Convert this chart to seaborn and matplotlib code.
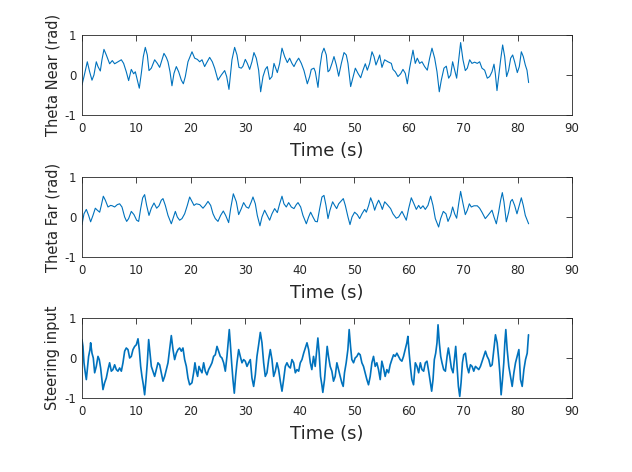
import matplotlib
matplotlib.use('Agg')
import matplotlib.pyplot as plt
import seaborn as sns
import pandas as pd

# values (time in s, angle in rad / steering)
near_t = [0.0, 0.37, 0.98, 1.41, 1.84, 2.20, 2.63, 2.94, 3.37, 3.67, 4.04, 4.47, 5.08, 5.57, 6.00,
          6.61, 7.23, 7.65, 8.14, 8.57, 9.06, 9.49, 9.80, 10.17, 10.53, 10.90, 11.27, 11.63, 12.00,
          12.31, 12.74, 13.35, 13.84, 14.27, 14.70, 15.06, 15.49, 15.80, 16.17, 16.53, 16.90, 17.33,
          17.76, 18.25, 18.62, 18.98, 19.47, 20.21, 20.70, 21.19, 21.62, 22.05, 22.53, 22.84, 23.45,
          23.94, 24.37, 24.98, 25.60, 26.21, 26.58, 27.0, 27.55, 28.04, 28.47, 28.84, 29.27, 29.57,
          30.0, 30.37, 30.80, 31.22, 31.59, 32.02, 32.45, 32.82, 33.25, 33.67, 34.04, 34.47, 34.90,
          35.27, 35.88, 36.31, 36.74, 37.23, 37.72, 38.14, 38.57, 38.94, 39.37, 39.80, 40.29, 40.78,
          41.39, 41.82, 42.12, 42.61, 42.86, 43.35, 43.72, 44.08, 44.45, 44.88, 45.19, 45.49, 45.92,
          46.29, 46.72, 47.15, 47.64, 48.13, 48.55, 48.86, 49.35, 49.78, 50.21, 50.70, 51.19, 51.62,
          52.04, 52.41, 52.84, 53.27, 53.64, 54.00, 54.37, 54.68, 55.10, 55.59, 56.20, 56.82, 57.12,
          57.55, 58.04, 58.53, 58.96, 59.39, 59.76, 60.18, 60.80, 61.22, 61.59, 62.02, 62.45, 62.94,
          63.43, 63.86, 64.29, 64.78, 65.21, 65.63, 66.0, 66.49, 66.92, 67.35, 67.72, 68.08, 68.45,
          68.82, 69.19, 69.55, 69.98, 70.41, 70.78, 71.21, 71.63, 72.12, 72.61, 73.04, 73.47, 73.96,
          74.45, 74.88, 75.31, 75.68, 75.92, 76.23, 76.53, 76.90, 77.27, 77.64, 78.00, 78.37, 78.74,
          79.11, 79.47, 79.96, 80.33, 80.70, 81.06, 81.43, 81.74, 82.04]
near_val = [-0.25, -0.04, 0.33, 0.08, -0.13, 0.0, 0.33, 0.21, 0.10, 0.38, 0.64, 0.50, 0.28, 0.36, 0.28,
            0.33, 0.38, 0.29, 0.08, -0.14, 0.14, 0.03, 0.08, -0.13, -0.33, 0.04, 0.46, 0.69, 0.50,
            0.11, 0.17, 0.38, 0.29, 0.19, 0.38, 0.54, 0.44, 0.33, 0.08, -0.27, 0.04, 0.21,
            0.08, -0.13, -0.22, -0.04, 0.33, 0.58, 0.42, 0.39, 0.33, 0.38, 0.21, 0.29, 0.44,
            0.33, 0.17, -0.13, 0.0, 0.11, -0.04, -0.36, 0.38, 0.69, 0.50, 0.19, 0.17, 0.22,
            0.39, 0.29, 0.14, 0.33, 0.56, 0.42, 0.12, -0.42, -0.04, 0.14, 0.21, -0.11, -0.04,
            0.29, 0.06, 0.29, 0.67, 0.46, 0.31, 0.42, 0.29, 0.21, 0.33, 0.42, 0.29, 0.11,
            -0.22, -0.04, 0.14, 0.17, 0.08, -0.31, 0.21, 0.54, 0.67, 0.50, 0.08, 0.12, 0.29,
            0.46, 0.25, -0.03, 0.29, 0.56, 0.50, 0.29, -0.29, -0.06, 0.17, 0.04, -0.07, 0.12,
            0.28, 0.12, 0.29, 0.58, 0.46, 0.25, 0.38, 0.50, 0.19, 0.38, 0.33, 0.29, 0.14,
            0.08, -0.04, 0.03, 0.14, 0.04, -0.22, 0.17, 0.62, 0.29, 0.42, 0.29, 0.33, 0.21,
            0.12, 0.42, 0.67, 0.42, 0.08, -0.42, -0.13, 0.17, 0.22, -0.08, 0.0, 0.33, 0.12,
            -0.08, 0.38, 0.81, 0.38, 0.11, 0.17, 0.38, 0.29, 0.32, 0.29, 0.33, 0.17, 0.12,
            -0.08, -0.04, 0.08, 0.27, 0.04, -0.39, -0.04, 0.38, 0.75, 0.46, -0.04, 0.12, 0.42,
            0.50, 0.33, 0.06, 0.21, 0.58, 0.46, 0.25, 0.12, -0.19]

far_t = [0.0, 0.37, 0.80, 1.22, 1.59, 2.02, 2.45, 2.82, 3.25, 3.55, 3.92, 4.29, 4.78, 5.27, 5.57,
         6.00, 6.49, 6.92, 7.35, 7.84, 8.21, 8.57, 9.06, 9.55, 10.04, 10.41, 10.78, 11.15, 11.51,
         11.88, 12.31, 12.74, 13.23, 13.72, 14.15, 14.57, 14.88, 15.31, 15.80, 16.41, 16.72, 17.15,
         17.51, 17.94, 18.37, 18.86, 19.35, 19.78, 20.21, 20.58, 21.00, 21.62, 22.23, 22.66, 23.15,
         23.64, 24.07, 24.49, 24.98, 25.47, 25.96, 26.39, 26.94, 27.31, 27.80, 28.35, 28.78, 29.27,
         29.69, 30.18, 30.61, 31.10, 31.41, 31.84, 32.20, 32.69, 33.06, 33.55, 34.04, 34.47, 34.90,
         35.39, 35.88, 36.31, 36.74, 37.10, 37.53, 37.96, 38.45, 38.94, 39.37, 39.68, 40.17, 40.59,
         41.21, 41.63, 42.00, 42.43, 42.86, 43.23, 43.66, 44.08, 44.45, 44.82, 45.19, 45.55, 46.04,
         46.41, 46.78, 47.15, 48.00, 48.37, 48.86, 49.23, 49.60, 50.08, 50.57, 51.00, 51.43, 51.92,
         52.23, 52.66, 53.02, 53.45, 53.76, 54.06, 54.49, 54.86, 55.17, 55.60, 56.08, 56.69, 57.12,
         57.73, 58.16, 58.78, 59.14, 59.57, 60.0, 60.49, 60.98, 61.41, 61.84, 62.20, 62.63, 63.06,
         63.55, 64.04, 64.47, 64.90, 65.51, 65.88, 66.37, 66.86, 67.23, 67.72, 68.08, 68.45, 68.82,
         69.19, 69.55, 69.92, 70.41, 70.78, 71.15, 71.51, 72.0, 72.61, 73.04, 73.47, 74.08, 74.57,
         75.31, 75.68, 76.11, 76.53, 76.90, 77.21, 77.51, 77.94, 78.37, 78.74, 79.04, 79.47, 79.90,
         80.33, 80.70, 81.06, 81.43, 82.04]
far_val = [-0.19, 0.08, 0.19, 0.04, -0.12, 0.04, 0.22, 0.17, 0.12, 0.29, 0.52, 0.42, 0.25, 0.29, 0.28,
           0.25, 0.31, 0.33, 0.25, 0.0, -0.11, -0.04, 0.14, 0.06, -0.08, -0.11, 0.21, 0.48, 0.56,
           0.29, 0.04, 0.22, 0.35, 0.22, 0.28, 0.42, 0.46, 0.29, 0.04, -0.17, -0.04, 0.14,
           0.0, -0.08, -0.04, 0.08, 0.29, 0.50, 0.39, 0.29, 0.33, 0.31, 0.22, 0.29, 0.39,
           0.29, 0.08, -0.04, -0.11, 0.04, 0.15, 0.04, -0.14, 0.21, 0.58, 0.38, 0.06, 0.21,
           0.36, 0.25, 0.22, 0.38, 0.50, 0.33, 0.04, -0.22, 0.0, 0.17, 0.04, -0.08, 0.08,
           0.21, 0.11, 0.33, 0.52, 0.33, 0.25, 0.36, 0.25, 0.21, 0.31, 0.36, 0.25, 0.04,
           -0.17, 0.0, 0.12, 0.0, -0.11, -0.12, 0.21, 0.50, 0.54, 0.29, -0.04, 0.17, 0.38,
           0.29, 0.21, 0.33, 0.46, 0.29, 0.0, -0.19, 0.0, 0.12, 0.06, -0.04, 0.08, 0.19,
           0.12, 0.29, 0.48, 0.33, 0.17, 0.29, 0.42, 0.31, 0.19, 0.38, 0.31, 0.21, 0.08,
           -0.03, 0.0, 0.14, 0.04, -0.08, 0.21, 0.48, 0.33, 0.19, 0.29, 0.21, 0.28, 0.19,
           0.29, 0.52, 0.29, -0.04, -0.25, -0.04, 0.14, 0.08, -0.11, 0.04, 0.25, 0.08, -0.03,
           0.33, 0.64, 0.38, 0.06, 0.17, 0.33, 0.25, 0.28, 0.28, 0.22, 0.12, -0.04, 0.04,
           0.17, 0.0, -0.17, 0.12, 0.42, 0.61, 0.38, -0.12, 0.12, 0.39, 0.44, 0.29, 0.08,
           0.29, 0.48, 0.29, 0.04, -0.17]

steer_t = [0.0, 0.18, 0.37, 0.61, 0.80, 0.98, 1.22, 1.47, 1.59, 1.84, 2.08, 2.33, 2.63, 2.94, 3.18,
           3.43, 3.67, 3.86, 4.16, 4.47, 4.78, 5.08, 5.39, 5.69, 6.00, 6.31, 6.61, 6.92, 7.23, 7.53,
           7.84, 8.14, 8.45, 8.76, 9.06, 9.37, 9.68, 9.98, 10.29, 10.53, 10.78, 11.02, 11.27, 11.51,
           11.76, 12.00, 12.25, 12.49, 12.74, 13.04, 13.35, 13.66, 13.96, 14.27, 14.57, 14.88, 15.19,
           15.49, 15.80, 16.10, 16.41, 16.72, 17.02, 17.33, 17.64, 17.94, 18.25, 18.55, 18.86, 19.17,
           19.47, 19.78, 20.20, 20.51, 20.75, 21.0, 21.24, 21.49, 21.73, 22.04, 22.35, 22.65, 22.96,
           23.26, 23.57, 23.88, 24.18, 24.49, 24.80, 25.10, 25.41, 25.71, 26.02, 26.33, 26.63, 26.88,
           27.06, 27.24, 27.49, 27.73, 27.98, 28.22, 28.47, 28.78, 29.08, 29.39, 29.69, 30.0, 30.31,
           30.61, 30.92, 31.22, 31.53, 31.84, 32.14, 32.45, 32.76, 33.06, 33.37, 33.67, 33.98, 34.29,
           34.59, 34.90, 35.21, 35.51, 35.82, 36.12, 36.43, 36.74, 37.04, 37.35, 37.65, 37.96, 38.27,
           38.57, 38.88, 39.19, 39.49, 39.80, 40.10, 40.41, 40.72, 41.02, 41.33, 41.63, 41.94, 42.22,
           42.53, 42.84, 43.14, 43.33, 43.57, 43.82, 44.06, 44.24, 44.55, 44.79, 45.04, 45.28, 45.59,
           45.90, 46.20, 46.51, 46.82, 47.12, 47.43, 47.73, 47.98, 48.22, 48.53, 48.84, 49.08, 49.33,
           49.57, 49.88, 50.18, 50.49, 50.80, 51.10, 51.41, 51.71, 52.02, 52.33, 52.63, 52.94, 53.25,
           53.55, 53.86, 54.16, 54.47, 54.78, 55.08, 55.39, 55.69, 56.00, 56.31, 56.61, 56.92, 57.23,
           57.53, 57.84, 58.14, 58.45, 58.76, 59.06, 59.37, 59.67, 59.86, 60.10, 60.35, 60.59, 60.90,
           61.23, 61.53, 61.84, 62.15, 62.45, 62.76, 63.07, 63.37, 63.68, 63.99, 64.23, 64.48, 64.72,
           64.97, 65.21, 65.40, 65.64, 65.89, 66.13, 66.44, 66.75, 67.06, 67.30, 67.55, 67.85, 68.16,
           68.40, 68.65, 68.90, 69.14, 69.39, 69.63, 69.88, 70.12, 70.43, 70.74, 71.04, 71.35, 71.66,
           71.96, 72.27, 72.58, 72.88, 73.19, 73.50, 73.80, 74.11, 74.42, 74.72, 75.03, 75.34, 75.64,
           75.95, 76.26, 76.56, 76.75, 76.99, 77.24, 77.48, 77.67, 77.85, 78.10, 78.40, 78.71, 79.02,
           79.33, 79.63, 79.94, 80.25, 80.55, 80.86, 81.17, 81.47, 81.78, 82.02]
steer_val = [0.46, 0.29, -0.12, -0.37, -0.54, -0.29, 0.04, 0.21, 0.38, 0.12, 0.0, -0.37, -0.21, 0.04, -0.04,
             -0.25, -0.54, -0.79, -0.62, -0.50, -0.29, -0.12, -0.33, -0.29, -0.17, -0.29, -0.33, -0.25, -0.33, -0.12,
             0.17, 0.25, 0.21, 0.0, 0.04, 0.21, 0.29, 0.33, 0.48, 0.21, -0.21, -0.46, -0.67, -0.92,
             -0.54, -0.12, 0.46, 0.12, -0.21, -0.33, -0.46, -0.29, -0.12, -0.17, -0.37, -0.58, -0.46,
             -0.29, -0.12, 0.21, 0.56, 0.21, -0.04, 0.12, 0.21, 0.25, 0.17, 0.25, -0.04, -0.21,
             -0.50, -0.67, -0.62, -0.37, -0.12, -0.33, -0.46, -0.21, -0.29, -0.37, -0.12, -0.33, -0.42,
             -0.29, -0.21, -0.12, 0.04, 0.08, 0.29, 0.17, 0.04, 0.0, -0.12, -0.33, 0.04, 0.42,
             0.71, 0.38, -0.12, -0.54, -0.88, -0.46, -0.12, 0.21, 0.04, -0.12, -0.04, -0.08, -0.21,
             -0.12, -0.04, -0.50, -0.71, -0.42, 0.04, 0.33, 0.64, 0.38, -0.12, -0.46, -0.37, -0.04,
             0.21, -0.04, -0.46, -0.33, -0.12, -0.29, -0.58, -0.83, -0.54, -0.21, -0.12, -0.21, -0.25,
             -0.04, -0.12, -0.37, -0.29, -0.33, -0.12, -0.04, 0.12, 0.25, 0.38, 0.21, -0.12, -0.29,
             0.04, -0.21, 0.21, 0.50, 0.12, -0.46, -0.67, -0.86, -0.54, -0.12, 0.29, 0.04, -0.21,
             -0.33, -0.58, -0.46, -0.12, -0.29, -0.46, -0.62, -0.71, -0.37, -0.12, 0.21, 0.71, 0.29,
             -0.04, -0.12, 0.0, 0.04, 0.12, 0.08, -0.12, -0.21, -0.37, -0.54, -0.67, -0.46, -0.12,
             0.04, -0.21, -0.12, -0.29, -0.54, -0.08, -0.25, -0.46, -0.29, -0.37, -0.17, -0.04, 0.08,
             0.04, 0.12, 0.04, -0.04, -0.08, 0.04, 0.21, 0.38, 0.54, 0.12, -0.25, -0.54, -0.67,
             -0.12, -0.21, -0.37, -0.12, -0.29, -0.33, -0.12, -0.08, -0.33, -0.62, -0.83, -0.54, -0.04,
             0.12, 0.38, 0.83, 0.38, 0.04, -0.12, -0.29, -0.33, 0.04, 0.25, 0.04, -0.25, -0.37,
             -0.04, 0.29, -0.21, -0.71, -0.96, -0.62, -0.12, 0.08, 0.12, -0.21, -0.37, -0.17, -0.21,
             -0.33, -0.21, -0.25, -0.29, -0.21, -0.08, 0.04, 0.17, 0.04, -0.04, -0.21, -0.17, 0.21,
             0.58, 0.38, -0.04, -0.37, -0.92, -0.54, -0.12, 0.38, 0.71, 0.21, -0.21, -0.46, -0.71,
             -0.37, -0.12, 0.04, 0.21, -0.54, -0.71, -0.29, -0.04, 0.12, 0.58]

x_ticks = [0, 10, 20, 30, 40, 50, 60, 70, 80, 90]
y_ticks = [-1, 0, 1]
y_labels = ['Theta Near (rad)', 'Theta Far (rad)', 'Steering input']

sns.set_style('white')
plt.rcParams['font.family'] = ['DejaVu Sans']
plt.rcParams['axes.unicode_minus'] = False

line_color = '#0072BD'
ink = '#262626'

fig = plt.figure(figsize=(6.32, 4.72), dpi=100)
boxes = [[0.1297, 0.7564, 0.7753, 0.1695],
         [0.1297, 0.4555, 0.7753, 0.1695],
         [0.1297, 0.1568, 0.7753, 0.1695]]
series = [(near_t, near_val, 0.8), (far_t, far_val, 0.8), (steer_t, steer_val, 1.2)]

for box, (t, v, lw), label in zip(boxes, series, y_labels):
    ax = fig.add_axes(box)
    df = pd.DataFrame({'t': t, 'v': v})
    sns.lineplot(data=df, x='t', y='v', ax=ax, color=line_color, linewidth=lw,
                 estimator=None, sort=False)
    ax.set_xlim(0, 90)
    ax.set_ylim(-1, 1)
    ax.set_xticks(x_ticks)
    ax.set_yticks(y_ticks)
    ax.set_xlabel('Time (s)', fontsize=13, color=ink, labelpad=5)
    ax.set_ylabel(label, fontsize=10.5, color=ink, labelpad=3)
    ax.tick_params(direction='in', length=4, width=0.6, labelsize=8.5, colors=ink,
                   top=True, right=True)
    ax.tick_params(axis='x', pad=5)
    ax.tick_params(axis='y', pad=4)
    for s in ax.spines.values():
        s.set_visible(True)
        s.set_color(ink)
        s.set_linewidth(0.6)

fig.savefig('out.png', dpi=100)
